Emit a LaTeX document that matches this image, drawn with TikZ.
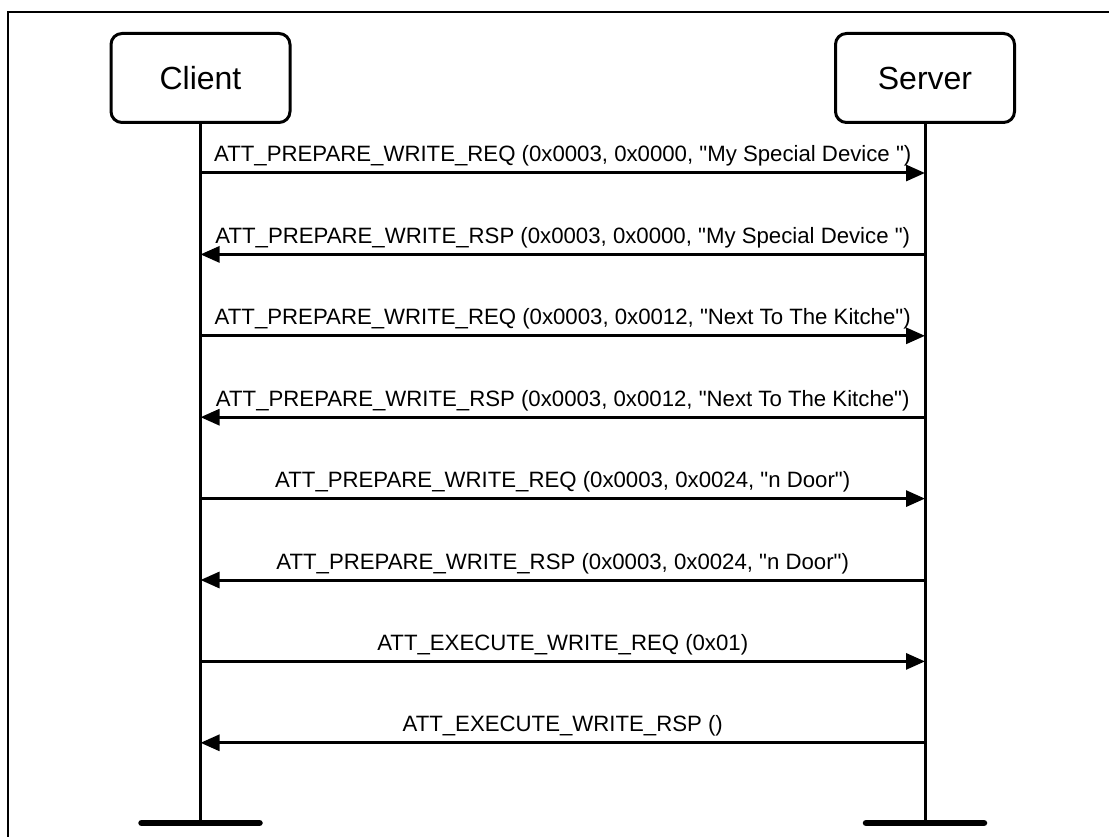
\documentclass[tikz,border=0pt]{standalone}
\usepackage{fontspec}
\setmainfont{Liberation Sans}
\usetikzlibrary{arrows.meta}
\newcommand{\qq}{\textquotedbl}

\begin{document}
\begin{tikzpicture}[x=1pt, y=-1pt,
    actor/.style={draw, line width=3pt, rounded corners=11pt, minimum width=179pt, minimum height=89pt, font=\fontsize{32}{38}\selectfont},
    lifeline/.style={line width=3pt},
    foot/.style={line width=6.5pt, line cap=round},
    msg/.style={line width=3pt, -{Triangle[length=19pt, width=16pt]}},
    lbl/.style={midway, anchor=base, yshift=11pt, font=\fontsize{22.2}{26}\selectfont}]
    \useasboundingbox (0,0) rectangle (1109,837);
    % Frame
    \draw[line width=2.5pt] (8,12) rectangle (1125,860);

    % Client and server
    \node[actor] (client) at (200.5,78) {Client};
    \node[actor] (server) at (925,78) {Server};
    \coordinate (clientend) at (200.5,823);
    \coordinate (serverend) at (925,823);
    \draw[lifeline] (client.south) -- (clientend);
    \draw[lifeline] (server.south) -- (serverend);
    \draw[foot] ([xshift=-59pt]clientend) -- ([xshift=59pt]clientend);
    \draw[foot] ([xshift=-59pt]serverend) -- ([xshift=59pt]serverend);

    % Points on the lifelines
    \foreach \i in {1,...,8} {
        \coordinate (c\i) at (200.5,{91.6+81.4*\i});
        \coordinate (s\i) at (925,{91.6+81.4*\i});
    }

    % Messages
    \draw[msg] (c1) -- node[lbl] (m1) {ATT\_PREPARE\_WRITE\_REQ (0x0003, 0x0000, \qq My Special Device \qq)} (s1);
    \draw[msg] (s2) -- node[lbl] (m2) {ATT\_PREPARE\_WRITE\_RSP (0x0003, 0x0000, \qq My Special Device \qq)} (c2);
    \draw[msg] (c3) -- node[lbl] (m3) {ATT\_PREPARE\_WRITE\_REQ (0x0003, 0x0012, \qq Next To The Kitche\qq)} (s3);
    \draw[msg] (s4) -- node[lbl] (m4) {ATT\_PREPARE\_WRITE\_RSP (0x0003, 0x0012, \qq Next To The Kitche\qq)} (c4);
    \draw[msg] (c5) -- node[lbl] (m5) {ATT\_PREPARE\_WRITE\_REQ (0x0003, 0x0024, \qq n Door\qq)} (s5);
    \draw[msg] (s6) -- node[lbl] (m6) {ATT\_PREPARE\_WRITE\_RSP (0x0003, 0x0024, \qq n Door\qq)} (c6);
    \draw[msg] (c7) -- node[lbl] (m7) {ATT\_EXECUTE\_WRITE\_REQ (0x01)} (s7);
    \draw[msg] (s8) -- node[lbl] (m8) {ATT\_EXECUTE\_WRITE\_RSP ()} (c8);
\end{tikzpicture}
\end{document}
